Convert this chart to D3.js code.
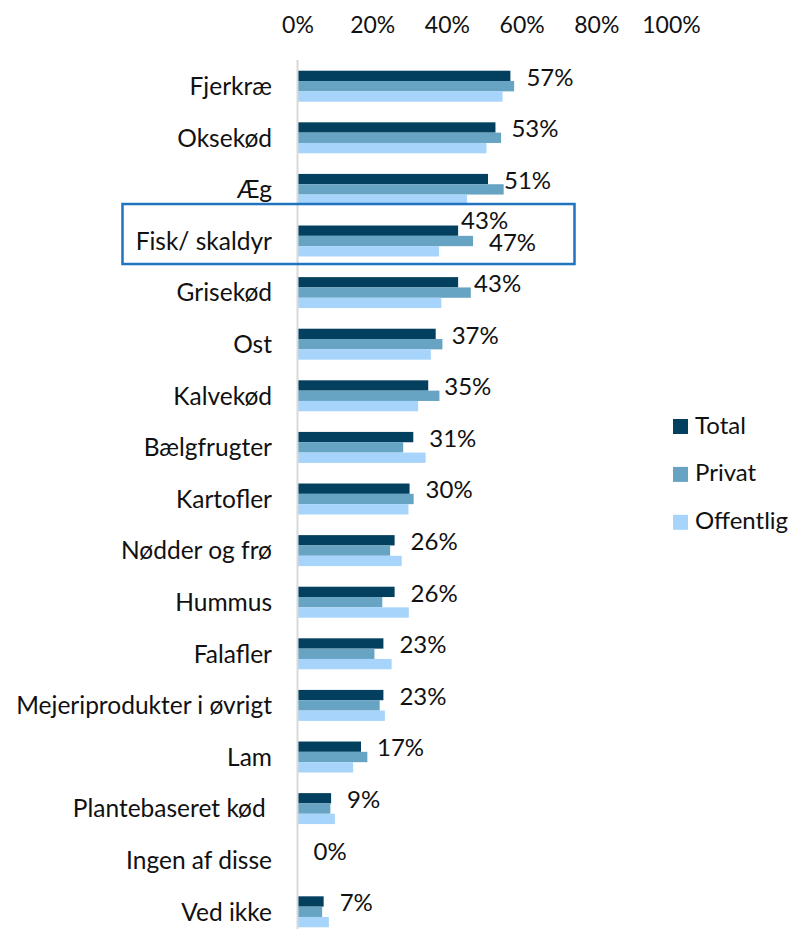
<!DOCTYPE html>
<html>
<head>
<meta charset="utf-8">
<script src="https://cdn.jsdelivr.net/npm/d3@7"></script>
<style>
  html, body { margin: 0; padding: 0; background: #fff; }
  svg text { font-family: Lato, "Open Sans", sans-serif; fill: #111; }
</style>
</head>
<body>
<div id="chart"></div>
<script>
// data
const categories = [
  "Fjerkræ", "Oksekød", "Æg", "Fisk/ skaldyr", "Grisekød", "Ost", "Kalvekød",
  "Bælgfrugter", "Kartofler", "Nødder og frø", "Hummus", "Falafler",
  "Mejeriprodukter i øvrigt", "Lam", "Plantebaseret kød ", "Ingen af disse", "Ved ikke"
];
const seriesNames = ["Total", "Privat", "Offentlig"];
const totalValues     = [57, 53, 51, 43, 43, 37, 35, 31, 30, 26, 26, 23, 23, 17, 9, 0, 7];
const privatValues    = [58, 54.5, 55.2, 47, 46.4, 38.8, 38, 28.3, 31.1, 24.8, 22.7, 20.6, 22, 18.7, 8.8, 0, 6.6];
const offentligValues = [54.9, 50.6, 45.4, 37.9, 38.5, 35.7, 32.3, 34.3, 29.7, 27.9, 29.8, 25.2, 23.4, 14.9, 10, 0, 8.4];
const tickValues = [0, 20, 40, 60, 80, 100];
const highlighted = "Fisk/ skaldyr";

const colors = { Total: "#033f5e", Privat: "#67a3c3", Offentlig: "#a7d4fb" };

const width = 791, height = 929;
const fontSize = 23;

const rows = categories.map((c, i) => ({
  cat: c,
  Total: totalValues[i],
  Privat: privatValues[i],
  Offentlig: offentligValues[i]
}));

const svg = d3.select("#chart").append("svg")
  .attr("width", width)
  .attr("height", height);

const x = d3.scaleLinear().domain([0, 100]).range([297.5, 671]);

const y = d3.scaleBand()
  .domain(categories)
  .range([60.4, 937.6])
  .paddingInner(0.4)
  .paddingOuter(0.2);

const ySub = d3.scaleBand()
  .domain(seriesNames)
  .range([0, y.bandwidth()]);

// top axis (labels only)
const xAxis = svg.append("g")
  .attr("transform", "translate(0,33)")
  .call(d3.axisTop(x).tickValues(tickValues).tickSize(0).tickPadding(0).tickFormat(d => d + "%"));
xAxis.select(".domain").remove();
xAxis.selectAll("text")
  .style("font-family", "Lato, sans-serif")
  .attr("font-size", fontSize)
  .attr("fill", "#111");

// category labels
const yAxis = svg.append("g")
  .attr("transform", "translate(272,0)")
  .call(d3.axisLeft(y).tickSize(0).tickPadding(0));
yAxis.select(".domain").remove();
yAxis.selectAll("text")
  .style("font-family", "Lato, sans-serif")
  .style("white-space", "pre")
  .attr("font-size", 24.5)
  .attr("fill", "#111")
  .attr("dy", "0.36em");

// bars
const groups = svg.append("g").selectAll("g")
  .data(rows)
  .join("g")
  .attr("transform", d => `translate(0,${y(d.cat)})`);

groups.selectAll("rect")
  .data(d => seriesNames.map(s => ({ s, v: d[s] })))
  .join("rect")
  .attr("x", x(0))
  .attr("y", d => ySub(d.s))
  .attr("width", d => x(d.v) - x(0))
  .attr("height", ySub.bandwidth())
  .attr("fill", d => colors[d.s]);

// vertical axis line
svg.append("line")
  .attr("x1", x(0)).attr("x2", x(0))
  .attr("y1", 60).attr("y2", height)
  .attr("stroke", "#d9d9d9")
  .attr("stroke-width", 2);

// value labels (Total), the highlighted row was nudged by hand in the original
const labels = svg.append("g").attr("font-size", fontSize + 1);
rows.forEach(d => {
  const mid = y(d.cat) + ySub("Total") + ySub.bandwidth() / 2;
  if (d.cat === highlighted) {
    labels.append("text")
      .attr("x", x(d.Total) + 3)
      .attr("y", mid - 10)
      .attr("dy", "0.36em")
      .text(Math.round(d.Total) + "%");
    labels.append("text")
      .attr("x", x(d.Privat) + 16)
      .attr("y", y(d.cat) + ySub("Privat") + ySub.bandwidth() / 2 + 1)
      .attr("dy", "0.36em")
      .text(Math.round(d.Privat) + "%");
  } else {
    labels.append("text")
      .attr("x", x(d.Total) + 16)
      .attr("y", mid + 1)
      .attr("dy", "0.36em")
      .text(Math.round(d.Total) + "%");
  }
});

// highlight box
svg.append("rect")
  .attr("x", 122.5)
  .attr("y", y(highlighted) - 21.5)
  .attr("width", 452)
  .attr("height", 60)
  .attr("fill", "none")
  .attr("stroke", "#1f73bf")
  .attr("stroke-width", 2.5);

// legend
const legend = svg.append("g").attr("transform", "translate(673,419)");
const item = legend.selectAll("g")
  .data(seriesNames)
  .join("g")
  .attr("transform", (d, i) => `translate(0,${i * 47.9})`);
item.append("rect")
  .attr("width", 15).attr("height", 15)
  .attr("fill", d => colors[d]);
item.append("text")
  .attr("x", 22)
  .attr("y", 14.5)
  .attr("font-size", 24)
  .text(d => d);
</script>
</body>
</html>
